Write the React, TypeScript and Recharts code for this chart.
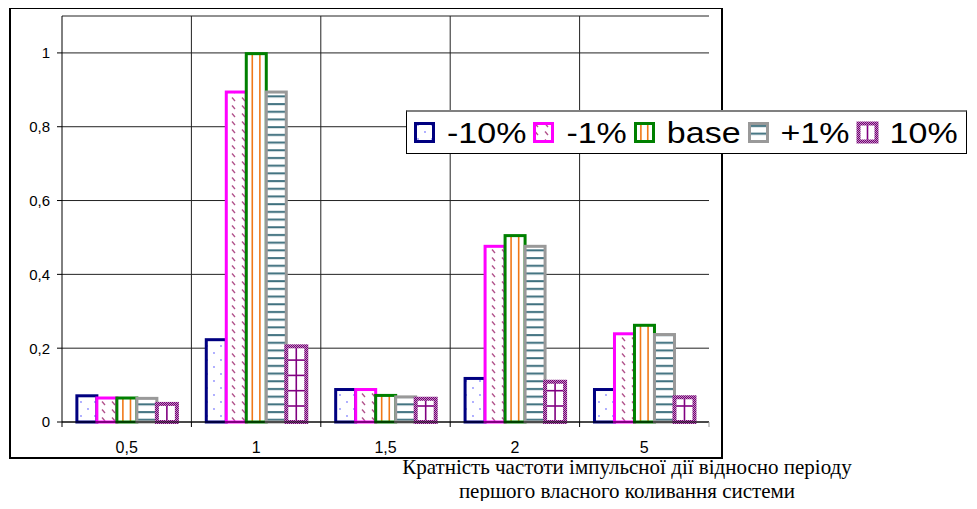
import { BarChart, Bar, XAxis, YAxis, CartesianGrid } from 'recharts';

const categories = ['0,5', '1', '1,5', '2', '5'];
const minus10 = [0.071, 0.223, 0.088, 0.118, 0.088];
const minus1 = [0.065, 0.894, 0.088, 0.476, 0.239];
const base = [0.065, 0.998, 0.072, 0.505, 0.262];
const plus1 = [0.064, 0.894, 0.068, 0.476, 0.237];
const plus10 = [0.049, 0.205, 0.063, 0.109, 0.067];
const yTicks = [0, 0.2, 0.4, 0.6, 0.8, 1];
const seriesNames = ['-10%', '-1%', 'base', '+1%', '10%'];
const seriesKeys = ['m10', 'm1', 'base', 'p1', 'p10'];

const data = categories.map((name, i) => ({
  name,
  m10: minus10[i],
  m1: minus1[i],
  base: base[i],
  p1: plus1[i],
  p10: plus10[i],
}));

const comma = (v: number) => String(v).replace('.', ',');

// each series has its own hatch, like the old Excel b/w patterns
const drawBar = (key: string) => (props: any) => {
  const { x, y, width, height } = props;
  if (!height || height <= 0) return <g />;
  if (key === 'm10') {
    return <rect x={x} y={y} width={width} height={height} fill="url(#dots)" stroke="#000080" strokeWidth={3} />;
  }
  if (key === 'm1') {
    return <rect x={x} y={y} width={width} height={height} fill="url(#diag)" stroke="#ff00ff" strokeWidth={3} />;
  }
  if (key === 'base') {
    return (
      <g>
        <rect x={x} y={y} width={width} height={height} fill="#fff" />
        <line x1={x + width * 0.3} y1={y} x2={x + width * 0.3} y2={y + height} stroke="#f07818" strokeWidth={1.6} />
        <line x1={x + width * 0.68} y1={y} x2={x + width * 0.68} y2={y + height} stroke="#f07818" strokeWidth={1.6} />
        <rect x={x} y={y} width={width} height={height} fill="none" stroke="#008000" strokeWidth={3} />
      </g>
    );
  }
  if (key === 'p1') {
    return <rect x={x} y={y} width={width} height={height} fill="url(#hlines)" stroke="#999999" strokeWidth={3} />;
  }
  const rows: number[] = [];
  for (let yy = y + height - 16; yy > y + 3; yy -= 15.3) rows.push(yy);
  return (
    <g>
      <rect x={x} y={y} width={width} height={height} fill="#fff" />
      <line x1={x + width / 2} y1={y} x2={x + width / 2} y2={y + height} stroke="#800080" strokeWidth={1.6} />
      {rows.map((r, i) => (
        <line key={i} x1={x} y1={r} x2={x + width} y2={r} stroke="#800080" strokeWidth={1.6} />
      ))}
      <rect x={x} y={y} width={width} height={height} fill="none" stroke="url(#checker)" strokeWidth={4} />
    </g>
  );
};

const XTick = (props: any) => {
  const { x, y, payload } = props;
  const half = payload.offset || 64.7;
  return (
    <g>
      <line x1={x - half} y1={y} x2={x - half} y2={y + 5} stroke="#000" />
      {payload.index === categories.length - 1 && (
        <line x1={x + half} y1={y} x2={x + half} y2={y + 5} stroke="#999" />
      )}
      <text x={x} y={y + 31} textAnchor="middle" fontSize={16} fontFamily="Liberation Sans, Arial" fill="#000">
        {payload.value}
      </text>
    </g>
  );
};

const App = () => {
  return (
    <div style={{ position: 'relative', width: 977, height: 509, margin: -8, overflow: 'hidden', background: '#fff' }}>
      <div
        style={{
          position: 'absolute',
          left: 9,
          top: 7,
          width: 714,
          height: 452,
          border: '2px solid #000',
          boxSizing: 'border-box',
        }}
      />
      <div style={{ position: 'absolute', left: 0, top: 0 }}>
        <BarChart
          width={977}
          height={509}
          data={data}
          margin={{ top: 16, right: 268, bottom: 57, left: 10 }}
          barCategoryGap="11.5%"
          barGap={0}
        >
          <defs>
            <pattern id="dots" width={14} height={14} patternUnits="userSpaceOnUse">
              <rect width={14} height={14} fill="#fff" />
              <circle cx={4} cy={3} r={0.9} fill="#8c8cff" />
              <circle cx={11} cy={10} r={0.9} fill="#8c8cff" />
            </pattern>
            <pattern id="diag" width={10} height={8} patternUnits="userSpaceOnUse">
              <rect width={10} height={8} fill="#fff" />
              <line x1={2} y1={1.5} x2={5} y2={5} stroke="#b0508a" strokeWidth={1.3} />
            </pattern>
            <pattern id="hlines" width={8} height={7.7} patternUnits="userSpaceOnUse">
              <rect width={8} height={7.7} fill="#fff" />
              <rect y={3} width={8} height={2} fill="#3d6f7d" />
            </pattern>
            <pattern id="checker" width={2} height={2} patternUnits="userSpaceOnUse">
              <rect width={2} height={2} fill="#c58ac5" />
              <rect width={1} height={1} fill="#700070" />
              <rect x={1} y={1} width={1} height={1} fill="#700070" />
            </pattern>
          </defs>
          <CartesianGrid
            stroke="#222"
            verticalCoordinatesGenerator={({ offset }: any) =>
              [1, 2, 3, 4].map((i) => offset.left + (i * offset.width) / categories.length)
            }
          />
          <XAxis
            dataKey="name"
            stroke="#000"
            tickLine={false}
            tickSize={0}
            tickMargin={0}
            height={30}
            interval={0}
            tick={<XTick />}
          />
          <YAxis
            domain={[0, 1.1]}
            ticks={yTicks}
            tickFormatter={comma}
            width={52}
            stroke="#000"
            tickSize={5}
            tickMargin={7}
            tick={{ fill: '#000', fontSize: 15, fontFamily: 'Liberation Sans, Arial' }}
          />
          <YAxis yAxisId="edge" orientation="right" width={0} tick={false} tickLine={false} stroke="#c0c0c0" />
          {seriesKeys.map((k, i) => (
            <Bar key={k} dataKey={k} name={seriesNames[i]} shape={drawBar(k)} isAnimationActive={false} />
          ))}
        </BarChart>
      </div>
      <div
        style={{
          position: 'absolute',
          left: 406,
          top: 110,
          width: 561,
          height: 44,
          boxSizing: 'border-box',
          border: '1.5px solid #000',
          borderTop: '2px solid #808080',
          background: '#fff',
          display: 'flex',
          alignItems: 'center',
          paddingLeft: 7,
          fontFamily: 'Liberation Sans, Arial',
          fontSize: 34,
          color: '#000',
        }}
      >
        {seriesKeys.map((k, i) => (
          <div key={k} style={{ display: 'flex', alignItems: 'center', marginRight: 7 }}>
            <svg width={21} height={21} style={{ marginRight: 12, overflow: 'visible' }}>
              {drawBar(k)({ x: 1.5, y: 1.5, width: 18, height: 18 })}
            </svg>
            <span style={{ display: 'inline-block', transform: 'scaleY(0.85)', lineHeight: '40px' }}>{seriesNames[i]}</span>
          </div>
        ))}
      </div>
      <div
        style={{
          position: 'absolute',
          left: 327,
          top: 455,
          width: 600,
          textAlign: 'center',
          fontFamily: 'Liberation Serif, Times New Roman, serif',
          fontSize: 21,
          lineHeight: '24px',
          color: '#000',
        }}
      >
        Кратність частоти імпульсної дії відносно періоду
        <br />
        першого власного коливання системи
      </div>
    </div>
  );
};

export default App;
